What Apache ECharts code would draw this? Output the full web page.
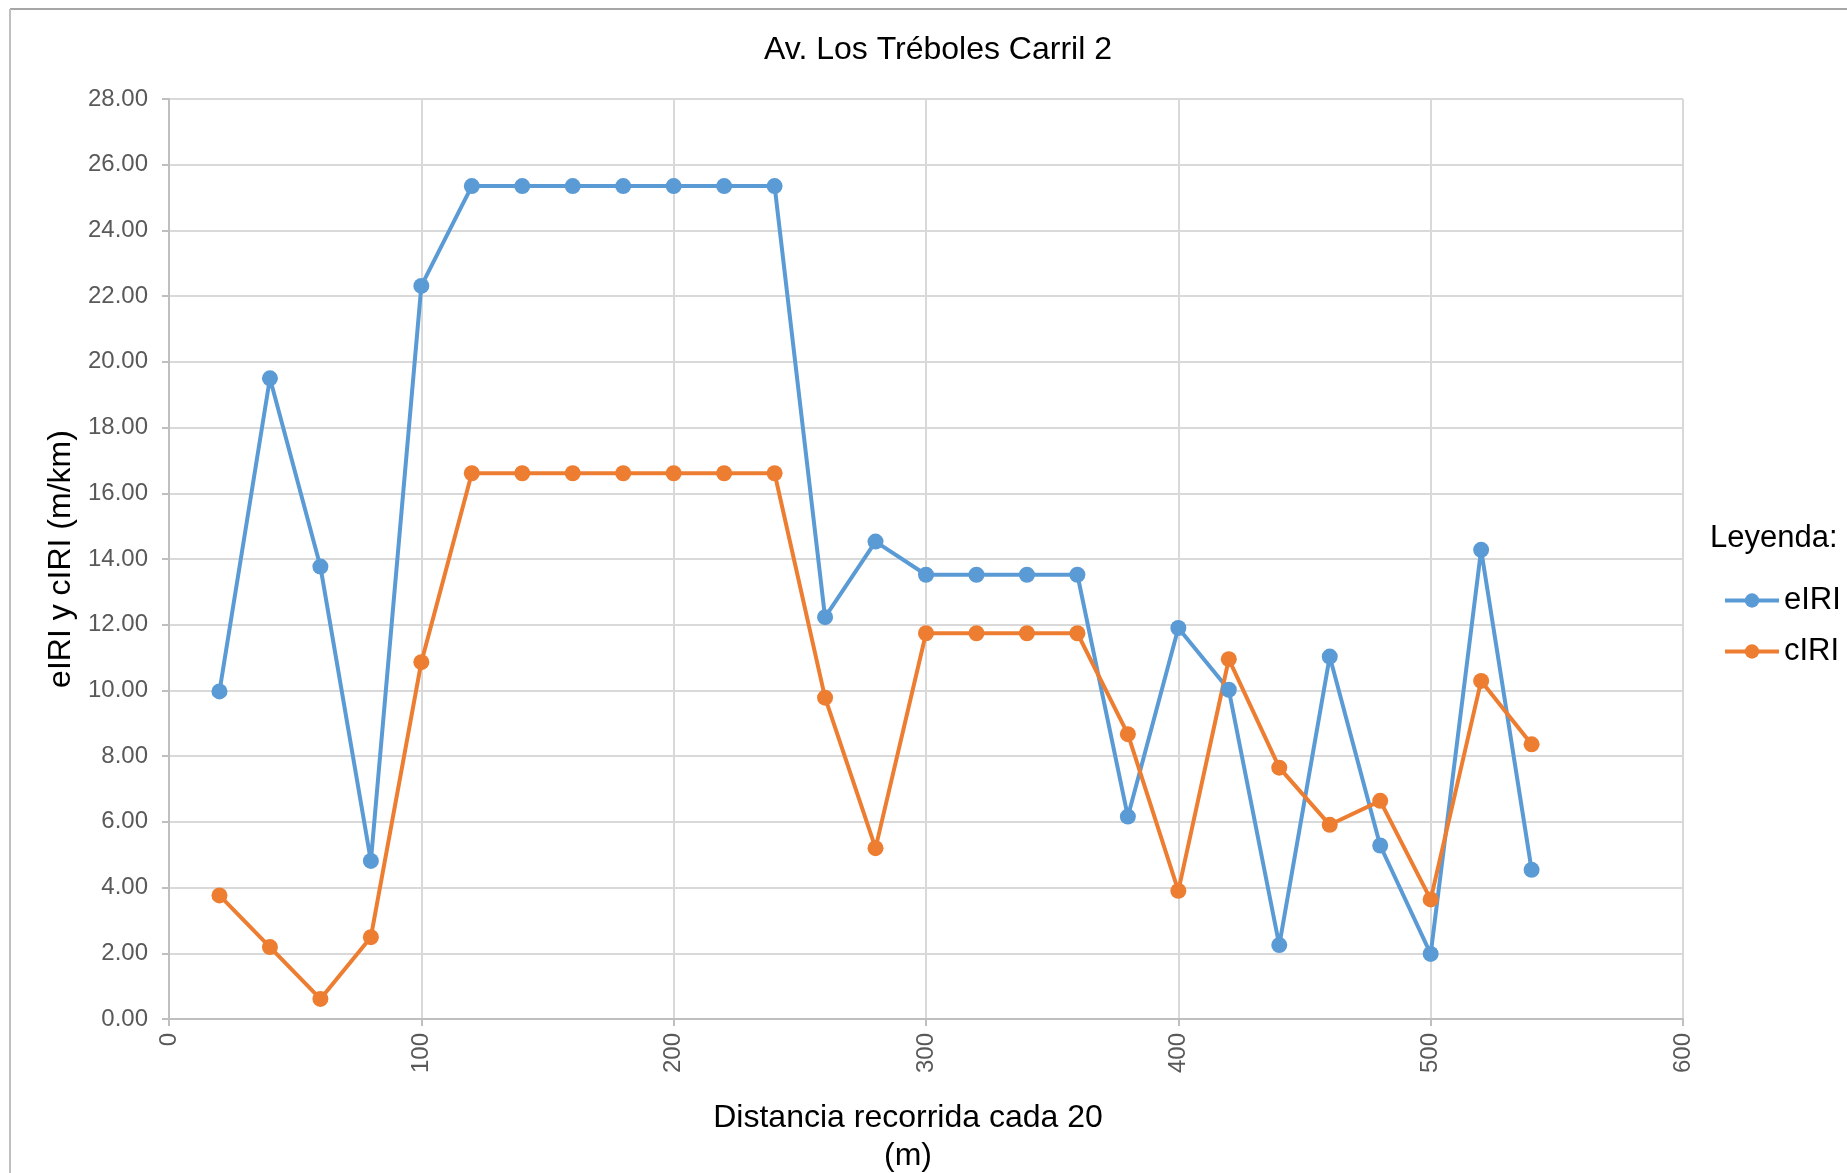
<!DOCTYPE html>
<html>
<head>
<meta charset="utf-8">
<script src="https://cdn.jsdelivr.net/npm/echarts@6/dist/echarts.min.js"></script>
<style>
html,body{margin:0;padding:0;background:#ffffff;}
#chart{width:1847px;height:1173px;display:block;}
</style>
</head>
<body>
<div id="chart"></div>
<script>
// ---- Data ----
const distances = [20, 40, 60, 80, 100, 120, 140, 160, 180, 200, 220, 240, 260, 280, 300, 320, 340, 360, 380, 400, 420, 440, 460, 480, 500, 520, 540];
const eIRI = [9.97, 19.50, 13.77, 4.81, 22.31, 25.35, 25.35, 25.35, 25.35, 25.35, 25.35, 25.35, 12.23, 14.53, 13.52, 13.52, 13.52, 13.52, 6.16, 11.90, 10.02, 2.25, 11.03, 5.28, 1.98, 14.28, 4.54];
const cIRI = [3.76, 2.19, 0.61, 2.49, 10.86, 16.61, 16.61, 16.61, 16.61, 16.61, 16.61, 16.61, 9.78, 5.20, 11.74, 11.74, 11.74, 11.74, 8.67, 3.90, 10.95, 7.65, 5.91, 6.64, 3.64, 10.29, 8.36];
const seriesNames = ['eIRI', 'cIRI'];
const titleText = 'Av. Los Tréboles Carril 2';
const legendTitle = 'Leyenda:';
const xAxisName = 'Distancia recorrida cada 20\n(m)';
const yAxisName = 'eIRI y cIRI (m/km)';

const FONT = '"Liberation Sans", Arial, sans-serif';
const chart = echarts.init(document.getElementById('chart'));

function pairs(xs, ys) { return xs.map((x, i) => [x, ys[i]]); }

const option = {
  animation: false,
  backgroundColor: '#ffffff',
  textStyle: { fontFamily: FONT },
  grid: { left: 169, top: 99, width: 1514, height: 920, containLabel: false, outerBoundsMode: 'none' },
  graphic: [
    { type: 'line', shape: { x1: 10, y1: 9, x2: 1847, y2: 9 }, style: { stroke: '#A6A6A6', lineWidth: 2 }, silent: true },
    { type: 'line', shape: { x1: 10, y1: 9, x2: 10, y2: 1173 }, style: { stroke: '#BFBFBF', lineWidth: 2 }, silent: true },
    { type: 'text', x: 938, y: 50, style: { text: titleText, font: '32px ' + FONT, fill: '#000000', align: 'center', verticalAlign: 'middle' } },
    { type: 'text', x: 1710, y: 538, style: { text: legendTitle, font: '31px ' + FONT, fill: '#000000', align: 'left', verticalAlign: 'middle' } }
  ],
  legend: {
    orient: 'vertical',
    left: 1718,
    top: 580,
    itemWidth: 54,
    itemHeight: 18,
    itemGap: 20,
    lineStyle: { width: 4 },
    textStyle: { fontSize: 31, color: '#000000', fontFamily: FONT },
    data: seriesNames
  },
  xAxis: {
    type: 'value',
    min: 0, max: 600, interval: 100,
    name: xAxisName,
    nameLocation: 'middle',
    nameGap: 80,
    nameTextStyle: { fontSize: 32, color: '#000000', fontFamily: FONT, lineHeight: 38, padding: [0, 36, 0, 0] },
    axisLine: { show: true, lineStyle: { color: '#BFBFBF', width: 2 } },
    axisTick: { show: true, length: 7, lineStyle: { color: '#BFBFBF', width: 2 } },
    axisLabel: { rotate: 90, margin: 14, fontSize: 24, color: '#595959', fontFamily: FONT },
    splitLine: { show: true, lineStyle: { color: '#D9D9D9', width: 2 } }
  },
  yAxis: {
    type: 'value',
    min: 0, max: 28, interval: 2,
    name: yAxisName,
    nameLocation: 'middle',
    nameRotate: 90,
    nameGap: 78,
    nameTextStyle: { fontSize: 32, color: '#000000', fontFamily: FONT },
    axisLine: { show: true, lineStyle: { color: '#BFBFBF', width: 2 } },
    axisTick: { show: true, length: 7, lineStyle: { color: '#BFBFBF', width: 2 } },
    axisLabel: { margin: 21, fontSize: 24, color: '#595959', fontFamily: FONT, formatter: v => v.toFixed(2) },
    splitLine: { show: true, lineStyle: { color: '#D9D9D9', width: 2 } }
  },
  series: [
    {
      name: seriesNames[0], type: 'line', data: pairs(distances, eIRI),
      symbol: 'circle', symbolSize: 16,
      lineStyle: { color: '#5B9BD5', width: 4 },
      itemStyle: { color: '#5B9BD5' }
    },
    {
      name: seriesNames[1], type: 'line', data: pairs(distances, cIRI),
      symbol: 'circle', symbolSize: 16,
      lineStyle: { color: '#ED7D31', width: 4 },
      itemStyle: { color: '#ED7D31' }
    }
  ]
};
chart.setOption(option);
</script>
</body>
</html>
